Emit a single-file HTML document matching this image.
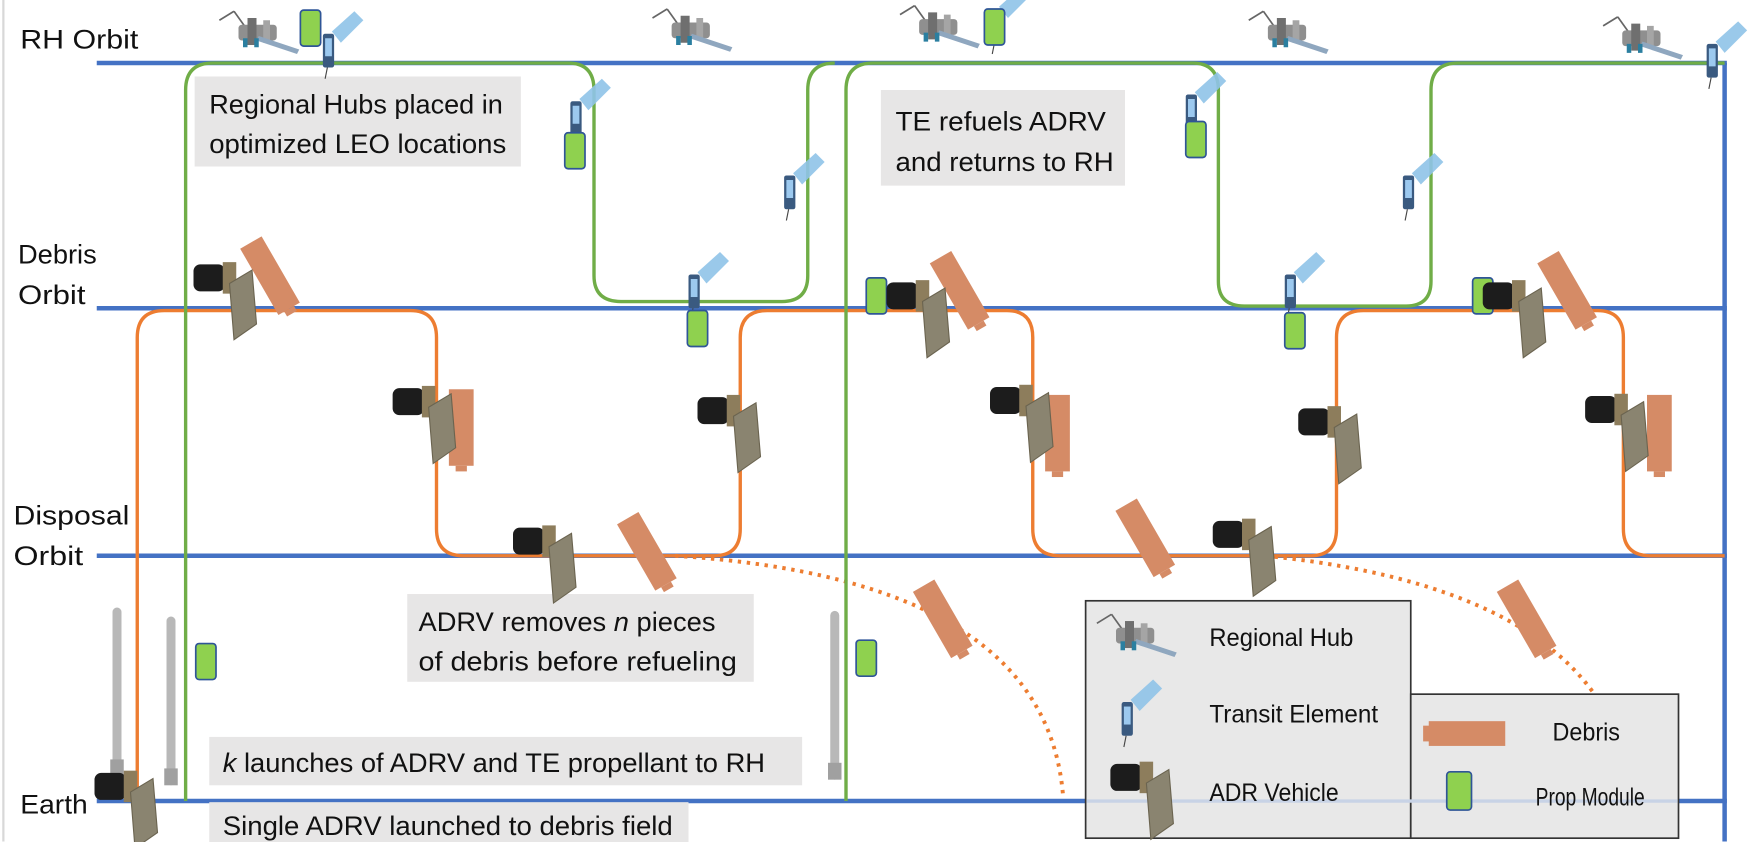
<!DOCTYPE html>
<html><head><meta charset="utf-8"><style>
html,body{margin:0;padding:0;background:#fff;}
svg{display:block;}
text{font-family:"Liberation Sans Narrow","Liberation Sans",sans-serif;fill:#111;}
</style></head><body>
<svg width="1764" height="842" viewBox="0 0 1568 748.4" preserveAspectRatio="none" xmlns="http://www.w3.org/2000/svg">
<defs>
<g id="adrv">
<rect x="-28" y="-13" width="28" height="24" rx="6" fill="#1c1c1c"/>
<rect x="-2" y="-15" width="12" height="28" fill="#8d7d5c"/>
<polygon points="4,4 24,-8 28,40 8,54" fill="#8a8470" stroke="#6b6450" stroke-width="1"/>
</g>
<g id="deb"><rect x="-11" y="-34" width="22" height="68" fill="#D58B66"/><rect x="-5" y="34" width="10" height="5" fill="#D58B66"/></g>
<g id="te">
<polygon points="0,-8 20,-26 28,-18 8,2" fill="#8fc3e8" opacity="0.9"/>
<rect x="-8" y="-6" width="10" height="30" rx="2" fill="#3a5a80"/>
<rect x="-6" y="-2" width="6" height="16" fill="#9cc9ef"/>
<line x1="-4" y1="24" x2="-6" y2="34" stroke="#444" stroke-width="1"/>
</g>
<g id="rh">
<line x1="-35" y1="-12" x2="-22" y2="-20" stroke="#666" stroke-width="1.5"/>
<line x1="-22" y1="-20" x2="-12" y2="-6" stroke="#666" stroke-width="1.5"/>
<rect x="-18" y="-8" width="34" height="14" rx="3" fill="#8f8f8f"/>
<rect x="-10" y="-14" width="8" height="24" fill="#6f6f6f"/>
<rect x="4" y="-12" width="6" height="20" fill="#a5a5a5"/>
<polygon points="0,2 36,14 34,18 -2,6" fill="#8fa7bf"/>
<rect x="-14" y="4" width="4" height="8" fill="#2b7fa0"/>
<rect x="-4" y="4" width="4" height="8" fill="#2b7fa0"/>
</g>
<g id="pm"><rect x="-9" y="-16" width="18" height="32" rx="3" fill="#8FD14F" stroke="#2F5597" stroke-width="1.5"/></g>
<g id="rocket"><rect x="-4" y="0" width="8" height="150" rx="4" fill="#b8b8b8"/><rect x="-6" y="135" width="12" height="15" fill="#a0a0a0"/></g>
</defs>
<line x1="3" y1="0" x2="3" y2="748" stroke="#d8d8d8" stroke-width="2"/>
<g stroke="#4472C4" stroke-width="4" fill="none">
<line x1="86" y1="56" x2="1535" y2="56"/>
<line x1="86" y1="274" x2="1535" y2="274"/>
<line x1="86" y1="494" x2="1535" y2="494"/>
<line x1="86" y1="712" x2="1535" y2="712"/>
<line x1="1533" y1="56" x2="1533" y2="748"/>
</g>
<path d="M122,748 V300 Q122,276 146,276 H365 Q388,276 388,300 V470 Q388,494 412,494 H635 Q658,494 658,470 V300 Q658,276 682,276 H895 Q918,276 918,300 V470 Q918,494 942,494 H1165 Q1188,494 1188,470 V300 Q1188,276 1212,276 H1420 Q1443,276 1443,300 V470 Q1443,494 1467,494 H1533" stroke="#ED7D31" stroke-width="3" fill="none"/>
<path d="M600,494 Q930,515 945,708" stroke="#ED7D31" stroke-width="3.5" fill="none" stroke-dasharray="3,5"/>
<path d="M1125,494 Q1430,525 1450,705" stroke="#ED7D31" stroke-width="3.5" fill="none" stroke-dasharray="3,5"/>
<path d="M165,712 V80 Q165,56 189,56 H505 Q528,56 528,80 V245 Q528,268 552,268 H695 Q718,268 718,245 V80 Q718,56 742,56" stroke="#70AD47" stroke-width="3" fill="none"/>
<path d="M752,712 V80 Q752,56 776,56 H1060 Q1083,56 1083,80 V250 Q1083,272 1106,272 H1250 Q1272,272 1272,250 V80 Q1272,56 1296,56 H1533" stroke="#70AD47" stroke-width="3" fill="none"/>
<g font-size="24" lengthAdjust="spacingAndGlyphs">
<text x="18" y="43" textLength="105" lengthAdjust="spacingAndGlyphs">RH Orbit</text>
<text x="16" y="234" textLength="70" lengthAdjust="spacingAndGlyphs">Debris</text><text x="16" y="270" textLength="60" lengthAdjust="spacingAndGlyphs">Orbit</text>
<text x="12" y="466" textLength="103" lengthAdjust="spacingAndGlyphs">Disposal</text><text x="12" y="502" textLength="62" lengthAdjust="spacingAndGlyphs">Orbit</text>
<text x="18" y="723" textLength="60" lengthAdjust="spacingAndGlyphs">Earth</text>
</g>
<use href="#rocket" x="104" y="540"/><use href="#rocket" x="152" y="548"/><use href="#rocket" x="742" y="543"/>
<g fill="#E7E6E6">
<rect x="173" y="68" width="290" height="80"/>
<rect x="783" y="80" width="217" height="85"/>
<rect x="362" y="528" width="308" height="78"/>
<rect x="186" y="655" width="527" height="43"/>
<rect x="186" y="713" width="426" height="36"/>
</g>
<g font-size="24">
<text x="186" y="101" textLength="261" lengthAdjust="spacingAndGlyphs">Regional Hubs placed in</text>
<text x="186" y="136" textLength="264" lengthAdjust="spacingAndGlyphs">optimized LEO locations</text>
<text x="796" y="116" textLength="187" lengthAdjust="spacingAndGlyphs">TE refuels ADRV</text>
<text x="796" y="152" textLength="194" lengthAdjust="spacingAndGlyphs">and returns to RH</text>
<text x="372" y="561" textLength="264" lengthAdjust="spacingAndGlyphs">ADRV removes <tspan font-style="italic">n</tspan> pieces</text>
<text x="372" y="596" textLength="283" lengthAdjust="spacingAndGlyphs">of debris before refueling</text>
<text x="198" y="686" textLength="482" lengthAdjust="spacingAndGlyphs"><tspan font-style="italic">k</tspan> launches of ADRV and TE propellant to RH</text>
<text x="198" y="742" textLength="400" lengthAdjust="spacingAndGlyphs">Single ADRV launched to debris field</text>
</g>
<use href="#rh" x="230" y="30"/><use href="#rh" x="615" y="28"/><use href="#rh" x="835" y="25"/><use href="#rh" x="1145" y="30"/><use href="#rh" x="1460" y="35"/>
<use href="#te" x="295" y="36"/><use href="#te" x="515" y="96"/><use href="#te" x="705" y="162"/><use href="#te" x="620" y="250"/><use href="#te" x="888" y="14"/><use href="#te" x="1062" y="90"/><use href="#te" x="1255" y="162"/><use href="#te" x="1150" y="250"/><use href="#te" x="1525" y="45"/>
<use href="#pm" x="276" y="25"/><use href="#pm" x="511" y="134"/><use href="#pm" x="620" y="292"/><use href="#pm" x="779" y="263"/><use href="#pm" x="1063" y="124"/><use href="#pm" x="1151" y="294"/><use href="#pm" x="183" y="588"/><use href="#pm" x="770" y="585"/><use href="#pm" x="884" y="24"/><use href="#pm" x="1318" y="263"/>
<use href="#deb" transform="translate(240,245) rotate(-30)"/>
<use href="#deb" transform="translate(410,380)"/>
<use href="#deb" transform="translate(575,490) rotate(-30)"/>
<use href="#deb" transform="translate(853,258) rotate(-30)"/>
<use href="#deb" transform="translate(940,385)"/>
<use href="#deb" transform="translate(1018,478) rotate(-30)"/>
<use href="#deb" transform="translate(1393,258) rotate(-30)"/>
<use href="#deb" transform="translate(1475,385)"/>
<use href="#deb" transform="translate(838,550) rotate(-30)"/>
<use href="#deb" transform="translate(1357,550) rotate(-30)"/>
<use href="#adrv" x="200" y="248"/><use href="#adrv" x="377" y="358"/><use href="#adrv" x="648" y="366"/><use href="#adrv" x="484" y="482"/><use href="#adrv" x="816" y="264"/><use href="#adrv" x="908" y="357"/><use href="#adrv" x="1182" y="376"/><use href="#adrv" x="1106" y="476"/><use href="#adrv" x="1346" y="264"/><use href="#adrv" x="1437" y="365"/><use href="#adrv" x="112" y="700"/>
<rect x="965" y="534" width="289" height="211" fill="#E8E8E8" stroke="#333" stroke-width="1.5"/>
<rect x="1254" y="617" width="238" height="128" fill="#E8E8E8" stroke="#333" stroke-width="1.5"/>
<line x1="966" y1="712" x2="1491" y2="712" stroke="#c8d3e6" stroke-width="3"/>
<use href="#rh" x="1010" y="566"/>
<use href="#te" x="1005" y="630"/>
<use href="#adrv" x="1015" y="692"/>
<rect x="1270" y="641" width="68" height="22" fill="#D58B66"/><rect x="1265" y="645" width="6" height="14" fill="#D58B66"/>
<rect x="1286" y="686" width="22" height="34" rx="3" fill="#8FD14F" stroke="#2F5597" stroke-width="1.5"/>
<g font-size="22">
<text x="1075" y="574" textLength="128" lengthAdjust="spacingAndGlyphs">Regional Hub</text>
<text x="1075" y="642" textLength="150" lengthAdjust="spacingAndGlyphs">Transit Element</text>
<text x="1075" y="712" textLength="115" lengthAdjust="spacingAndGlyphs">ADR Vehicle</text>
<text x="1380" y="658" textLength="60" lengthAdjust="spacingAndGlyphs">Debris</text>
<text x="1365" y="716" textLength="97" lengthAdjust="spacingAndGlyphs">Prop Module</text>
</g>
</svg>
</body></html>
